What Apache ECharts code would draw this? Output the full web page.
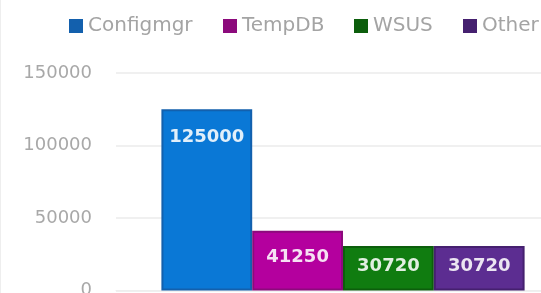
<!DOCTYPE html>
<html>
<head>
<meta charset="utf-8">
<script src="https://cdn.jsdelivr.net/npm/echarts@6/dist/echarts.min.js"></script>
<style>
  html, body { margin: 0; padding: 0; background: #fff; }
  #chart { width: 541px; height: 293px; border-left: 1px solid #eee; box-sizing: border-box; }
</style>
</head>
<body>
<div id="chart"></div>
<script>
const categories = ['Size'];
const seriesNames = ['Configmgr', 'TempDB', 'WSUS', 'Other'];
const configmgr = [125000];
const tempdb = [41250];
const wsus = [30720];
const other = [30720];
const yTicks = [0, 50000, 100000, 150000];

const colors = ['#0a78d6', '#b4009e', '#107c10', '#5c2d91'];
const borders = ['#1360ad', '#8c0a7c', '#0c5e0c', '#45206f'];
const labelGap = [19, 18, 11, 11];
// one legend per item so the row can run past the right edge like the original
const legendLeft = [68, 222, 353, 462];

const chart = echarts.init(document.getElementById('chart'));

const values = [configmgr, tempdb, wsus, other];

chart.setOption({
    animation: false,
    legend: seriesNames.map((name, i) => ({
        left: legendLeft[i],
        top: 16,
        padding: 0,
        itemWidth: 14,
        itemHeight: 14,
        icon: 'rect',
        itemStyle: { color: borders[i], borderWidth: 0 },
        textStyle: { color: '#a4a4a4', fontSize: 20, fontFamily: 'DejaVu Sans' },
        data: [name]
    })),
    grid: { left: 115, top: 73, width: 454, bottom: 2.5, outerBoundsMode: 'none', containLabel: false },
    xAxis: {
        type: 'category',
        data: categories,
        axisLabel: { show: false },
        axisTick: { show: false },
        axisLine: { lineStyle: { color: '#eeeeee' } }
    },
    yAxis: {
        type: 'value',
        min: yTicks[0],
        max: yTicks[yTicks.length - 1],
        interval: yTicks[1] - yTicks[0],
        axisLabel: { color: '#a8a8a8', fontSize: 18, fontFamily: 'DejaVu Sans', margin: 24, formatter: v => String(v) },
        axisLine: { show: false },
        axisTick: { show: false },
        splitLine: { lineStyle: { color: '#f0f0f0', width: 2 } }
    },
    series: seriesNames.map((name, i) => ({
        name: name,
        type: 'bar',
        data: values[i],
        barGap: '0%',
        barCategoryGap: '20%',
        itemStyle: { color: colors[i], borderColor: borders[i], borderWidth: 2 },
        label: {
            show: true,
            position: 'insideTop',
            distance: labelGap[i],
            color: 'rgba(255,255,255,0.88)',
            fontSize: 18,
            fontWeight: 'bold',
            fontFamily: 'DejaVu Sans'
        }
    }))
});
</script>
</body>
</html>
